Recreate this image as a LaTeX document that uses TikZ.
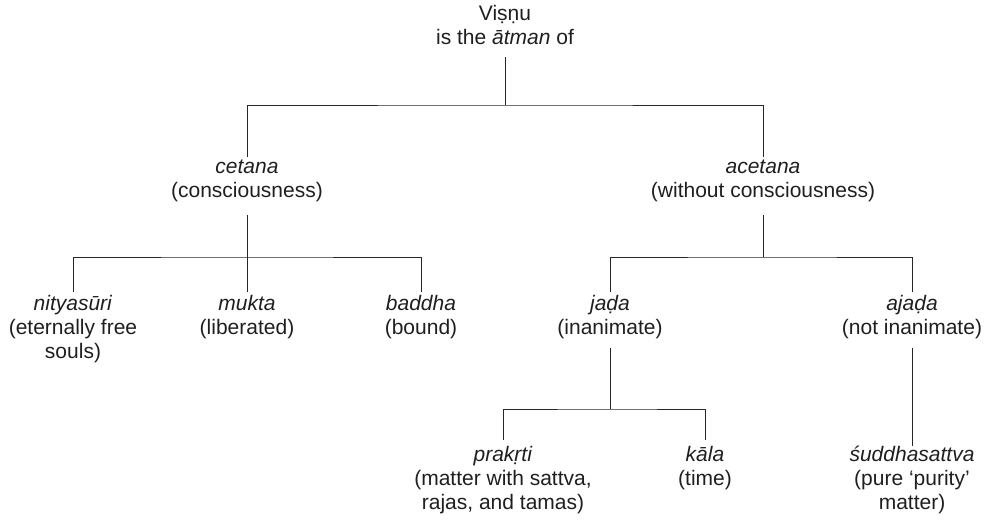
\documentclass[tikz,border=0pt]{standalone}
\usepackage{fontspec}
\setmainfont{Liberation Sans}
\newcommand{\mystrut}{\rule{0pt}{20pt}}
\begin{document}
\begin{tikzpicture}[x=1pt,y=1pt,
  lbl/.style={anchor=north, inner sep=0pt, align=center, text=black!88,
    font=\fontsize{21}{24}\selectfont},
  conn/.style={draw=black!85, line width=0.9pt}]
\useasboundingbox (0,0) rectangle (987,-524);
% nodes: anchor north at (first baseline - 20pt)
\node[lbl] (vis)   at (505,0)   {\mystrut Viṣṇu\\is the \textit{ātman} of};
\node[lbl] (cet)   at (247,-153) {\mystrut\textit{cetana}\\(consciousness)};
\node[lbl] (acet)  at (763,-153) {\mystrut\textit{acetana}\\(without consciousness)};
\node[lbl] (nit)   at (73,-290)  {\mystrut\textit{nityasūri}\\(eternally free\\souls)};
\node[lbl] (muk)   at (247,-290) {\mystrut\textit{mukta}\\(liberated)};
\node[lbl] (bad)   at (421,-290) {\mystrut\textit{baddha}\\(bound)};
\node[lbl] (jada)  at (610,-290) {\mystrut\textit{jaḍa}\\(inanimate)};
\node[lbl] (ajada) at (912,-290) {\mystrut\textit{ajaḍa}\\(not inanimate)};
\node[lbl] (prak)  at (503,-441) {\mystrut\textit{prakṛti}\\(matter with sattva,\\rajas, and tamas)};
\node[lbl] (kala)  at (705,-441) {\mystrut\textit{kāla}\\(time)};
\node[lbl] (sud)   at (912,-441) {\mystrut\textit{śuddhasattva}\\(pure ‘purity’\\matter)};
% level 1
\coordinate (b1) at (505,-105);
\draw[conn] (vis |- 0,-57) -- (b1);
\draw[conn] (cet |- 0,-157) |- (b1) -| (acet |- 0,-157);
% cetana
\coordinate (b2) at (247,-257);
\draw[conn] (cet |- 0,-215) -- (b2);
\draw[conn] (nit |- 0,-292) |- (b2) -| (bad |- 0,-292);
\draw[conn] (muk |- 0,-292) -- (b2);
% acetana
\coordinate (b3) at (763,-257);
\draw[conn] (acet |- 0,-215) -- (b3);
\draw[conn] (jada |- 0,-292) |- (b3) -| (ajada |- 0,-292);
% jada
\coordinate (b4) at (610,-409);
\draw[conn] (jada |- 0,-348) -- (b4);
\draw[conn] (prak |- 0,-440) |- (b4) -| (kala |- 0,-440);
% ajada
\draw[conn] (ajada |- 0,-348) -- (sud |- 0,-446);
\end{tikzpicture}
\end{document}
